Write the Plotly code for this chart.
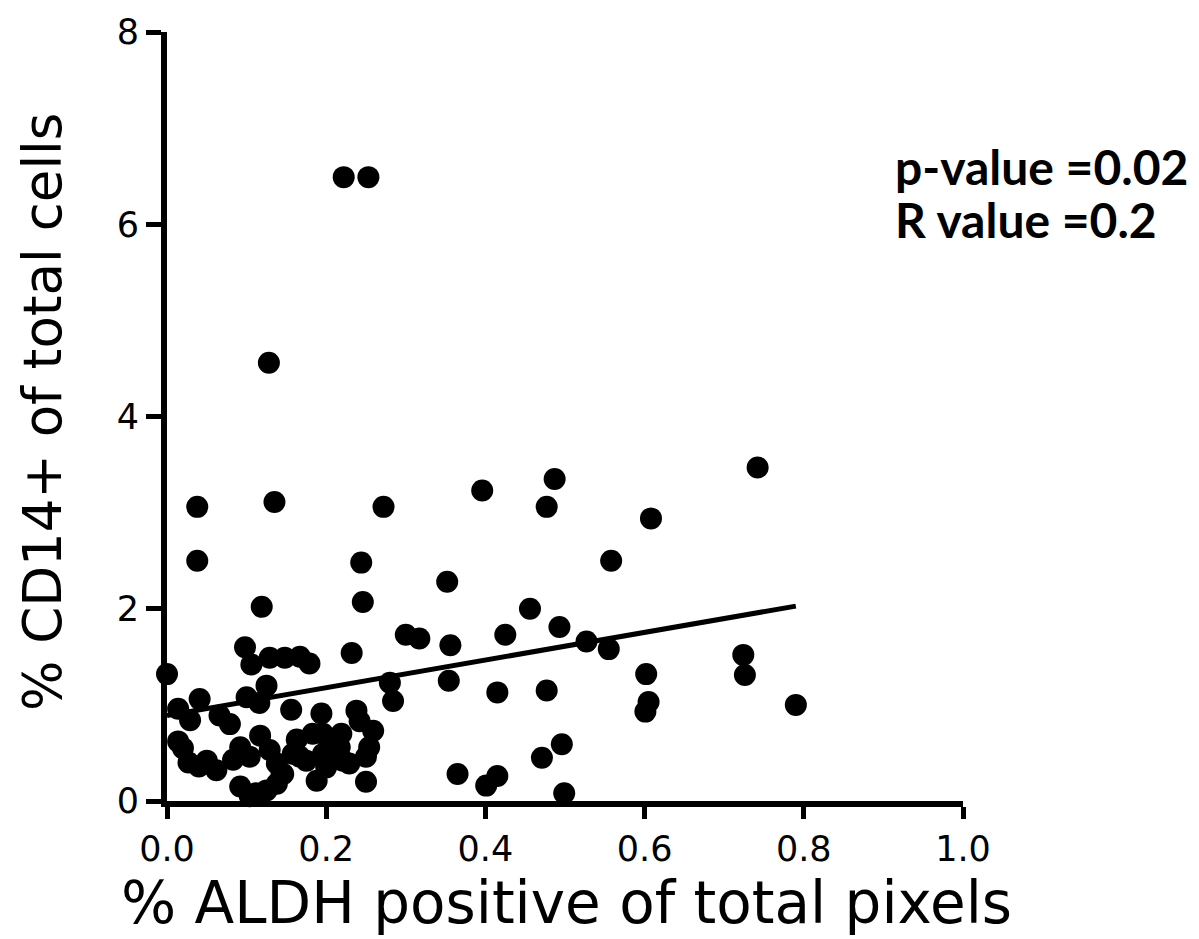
import plotly.graph_objects as go

# % ALDH positive of total pixels (x) vs % CD14+ of total cells (y)
aldh_pct = [
    0.222, 0.253, 0.128,
    0.038, 0.038, 0.135, 0.272, 0.244, 0.246, 0.119, 0.352,
    0.396, 0.487, 0.477, 0.742, 0.608, 0.558,
    0.456, 0.425, 0.493, 0.356, 0.527, 0.555, 0.354, 0.415, 0.477,
    0.602, 0.605, 0.601, 0.724, 0.726, 0.790,
    0.365, 0.401, 0.415, 0.471, 0.496, 0.499,
    0.300, 0.317, 0.284, 0.280, 0.232,
    0.000,
    0.098, 0.106, 0.129, 0.148, 0.167, 0.179,
    0.125, 0.014, 0.041, 0.029, 0.066, 0.079, 0.100, 0.116,
    0.156, 0.194,
    0.014, 0.020, 0.027, 0.050, 0.062, 0.040,
    0.083, 0.092, 0.104, 0.117, 0.129, 0.138,
    0.092, 0.112, 0.104, 0.125, 0.138, 0.144,
    0.163, 0.158, 0.175, 0.188, 0.196, 0.213, 0.221, 0.196, 0.200,
    0.238, 0.242, 0.259, 0.254, 0.250, 0.219, 0.217, 0.229, 0.250,
    0.183, 0.167, 0.146,
]
cd14_pct = [
    6.49, 6.49, 4.56,
    3.06, 2.50, 3.11, 3.06, 2.48, 2.07, 2.02, 2.28,
    3.23, 3.35, 3.06, 3.47, 2.94, 2.50,
    2.00, 1.73, 1.81, 1.62, 1.66, 1.58, 1.25, 1.13, 1.15,
    1.32, 1.03, 0.93, 1.52, 1.31, 1.00,
    0.28, 0.16, 0.26, 0.45, 0.59, 0.08,
    1.73, 1.69, 1.04, 1.23, 1.54,
    1.32,
    1.60, 1.42, 1.49, 1.49, 1.50, 1.43,
    1.20, 0.96, 1.06, 0.84, 0.89, 0.80, 1.08, 1.02,
    0.95, 0.91,
    0.62, 0.55, 0.40, 0.42, 0.32, 0.36,
    0.43, 0.56, 0.46, 0.68, 0.53, 0.39,
    0.15, 0.08, 0.05, 0.11, 0.18, 0.28,
    0.64, 0.49, 0.42, 0.21, 0.70, 0.63, 0.42, 0.49, 0.35,
    0.94, 0.83, 0.73, 0.56, 0.46, 0.70, 0.56, 0.39, 0.20,
    0.70, 0.46, 0.28,
]

# linear regression line
fit_intercept = 0.89
fit_slope = 1.44
fit_x = [0.0, 0.79]
fit_y = [fit_intercept + fit_slope * v for v in fit_x]

x_ticks = [0.0, 0.2, 0.4, 0.6, 0.8, 1.0]
x_tick_text = ["0.0", "0.2", "0.4", "0.6", "0.8", "1.0"]
y_ticks = [0, 2, 4, 6, 8]

stats_lines = ["p-value =0.02", "R value =0.2"]

W, H = 1199, 939
L, R, T, B = 167, 963, 24, 801


def px_x(p):
    return (p - L) / (R - L)


def px_y(p):
    return (B - p) / (B - T)


fig = go.Figure()
fig.add_trace(go.Scatter(
    x=fit_x, y=fit_y, mode="lines",
    line=dict(color="black", width=5),
    showlegend=False, hoverinfo="skip",
))
fig.add_trace(go.Scatter(
    x=aldh_pct, y=cd14_pct, mode="markers",
    marker=dict(color="black", size=22, symbol="circle", line=dict(width=0)),
    cliponaxis=False, showlegend=False,
))

axis_common = dict(
    showline=True, linecolor="black", linewidth=6,
    ticks="outside", tickwidth=5, tickcolor="black",
    showgrid=False, zeroline=False,
    tickfont=dict(family="DejaVu Sans", size=35, color="black"),
)
fig.update_xaxes(range=[0, 1.0], tickvals=x_ticks, ticktext=x_tick_text,
                 ticklen=12, **axis_common)
fig.update_yaxes(range=[0, 8], tickvals=y_ticks, ticklen=15, **axis_common)

fig.add_annotation(
    text="% ALDH positive of total pixels", xref="paper", yref="paper",
    x=px_x(566), y=px_y(904), showarrow=False, xanchor="center", yanchor="middle",
    font=dict(family="DejaVu Sans", size=58, color="black"),
)
fig.add_annotation(
    text="% CD14+ of total cells", xref="paper", yref="paper",
    x=px_x(42), y=px_y(408), showarrow=False, xanchor="center", yanchor="middle",
    textangle=-90,
    font=dict(family="DejaVu Sans", size=53, color="black"),
)
for i, line in enumerate(stats_lines):
    fig.add_annotation(
        text=f"<b>{line}</b>", xref="paper", yref="paper",
        x=px_x(893), y=px_y(160 + 53 * i), showarrow=False,
        xanchor="left", yanchor="middle",
        font=dict(family="Lato", size=48, color="black"),
    )

fig.update_layout(
    width=W, height=H,
    margin=dict(l=L, r=W - R, t=T, b=H - B, pad=0),
    plot_bgcolor="white", paper_bgcolor="white",
)

fig.write_html("out.html")
